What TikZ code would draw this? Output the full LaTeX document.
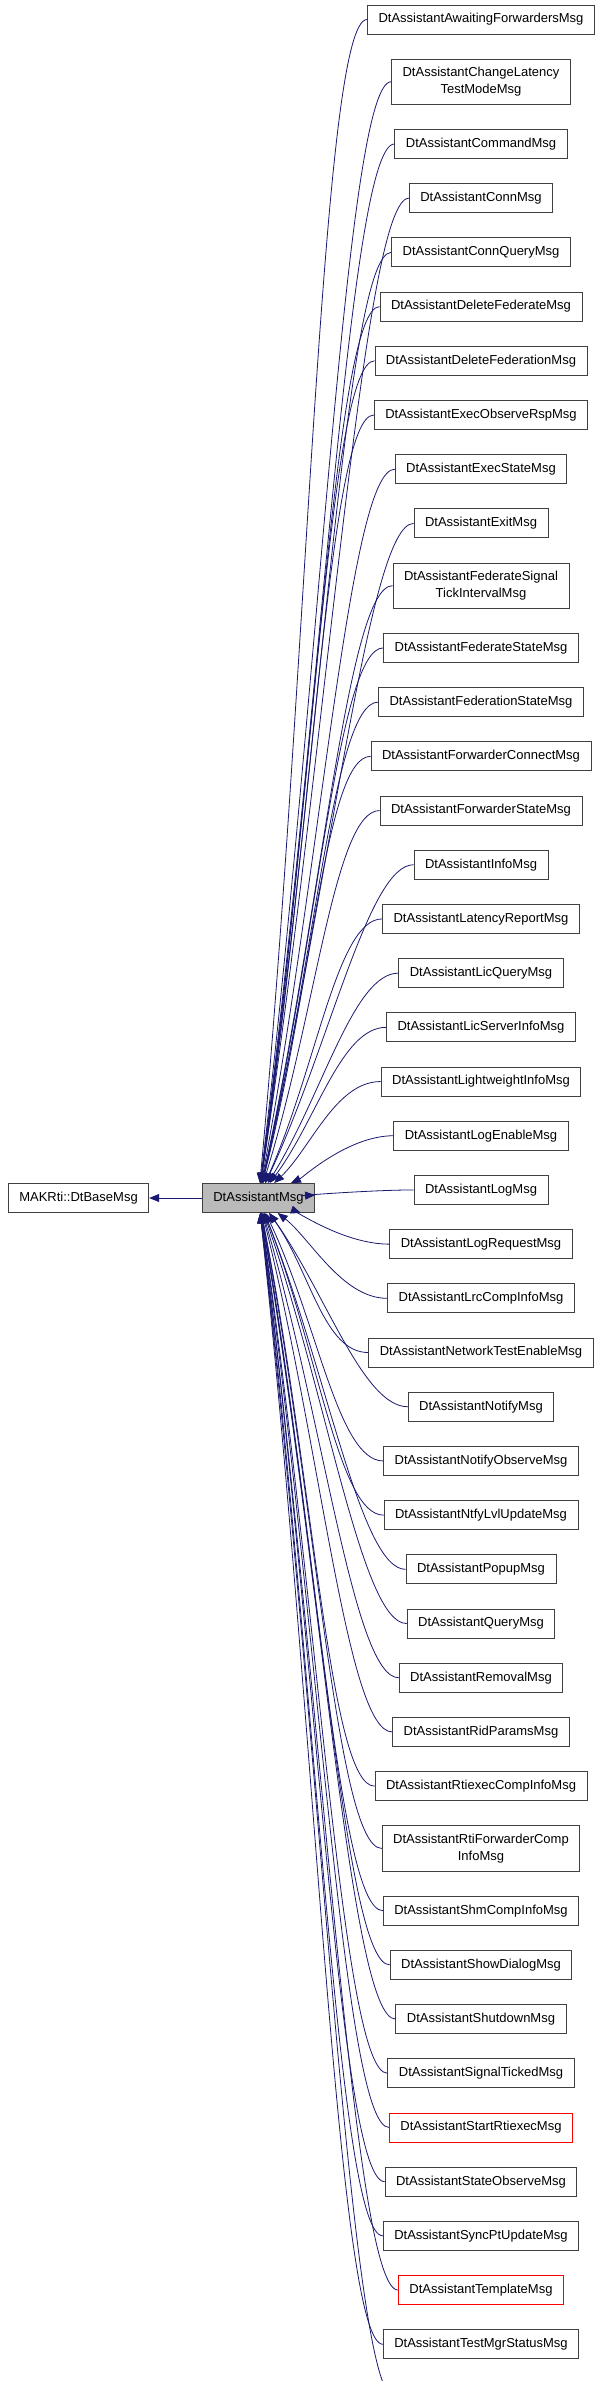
\documentclass[tikz,border=0pt]{standalone}
\usepackage{fontspec}
\setmainfont{Liberation Sans}
\usetikzlibrary{positioning,arrows.meta}
\definecolor{edgeblue}{HTML}{191970}
\tikzset{
  cls/.style={draw=black!75, line width=0.9pt, fill=white, align=center,
    font=\fontsize{13}{17}\selectfont, inner xsep=11pt, inner ysep=8pt, minimum height=29pt},
  hl/.style={cls, fill=black!27},
  red/.style={cls, draw=red},
  inh/.style={edgeblue, line width=0.8pt, {Triangle[length=10pt,width=8pt]}-}
}
\begin{document}
\begin{tikzpicture}
  \useasboundingbox (0pt,0pt) rectangle (603pt,-2381pt);
  % base classes
  \node[hl] (main) at (258.5pt,-1198pt) {DtAssistantMsg};
  \node[cls] (base) at (78.5pt,-1198pt) {MAKRti::DtBaseMsg};
  \draw[inh] (base) -- (main);
  % derived classes
  \node[cls] (c1) at (481pt,-19.5pt) {DtAssistantAwaitingForwardersMsg};
  \foreach \txt/\sty [count=\i from 2, evaluate=\i as \j using int(\i-1)] in {
    {DtAssistantChangeLatency\\TestModeMsg}/cls, DtAssistantCommandMsg/cls,
    DtAssistantConnMsg/cls, DtAssistantConnQueryMsg/cls,
    DtAssistantDeleteFederateMsg/cls, DtAssistantDeleteFederationMsg/cls,
    DtAssistantExecObserveRspMsg/cls, DtAssistantExecStateMsg/cls,
    DtAssistantExitMsg/cls, {DtAssistantFederateSignal\\TickIntervalMsg}/cls,
    DtAssistantFederateStateMsg/cls, DtAssistantFederationStateMsg/cls,
    DtAssistantForwarderConnectMsg/cls, DtAssistantForwarderStateMsg/cls,
    DtAssistantInfoMsg/cls, DtAssistantLatencyReportMsg/cls,
    DtAssistantLicQueryMsg/cls, DtAssistantLicServerInfoMsg/cls,
    DtAssistantLightweightInfoMsg/cls, DtAssistantLogEnableMsg/cls,
    DtAssistantLogMsg/cls, DtAssistantLogRequestMsg/cls,
    DtAssistantLrcCompInfoMsg/cls, DtAssistantNetworkTestEnableMsg/cls,
    DtAssistantNotifyMsg/cls, DtAssistantNotifyObserveMsg/cls,
    DtAssistantNtfyLvlUpdateMsg/cls, DtAssistantPopupMsg/cls,
    DtAssistantQueryMsg/cls, DtAssistantRemovalMsg/cls,
    DtAssistantRidParamsMsg/cls, DtAssistantRtiexecCompInfoMsg/cls,
    {DtAssistantRtiForwarderComp\\InfoMsg}/cls, DtAssistantShmCompInfoMsg/cls,
    DtAssistantShowDialogMsg/cls, DtAssistantShutdownMsg/cls,
    DtAssistantSignalTickedMsg/cls, DtAssistantStartRtiexecMsg/red,
    DtAssistantStateObserveMsg/cls, DtAssistantSyncPtUpdateMsg/cls,
    DtAssistantTemplateMsg/red, DtAssistantTestMgrStatusMsg/cls,
    DtAssistantTimeStateMsg/cls}
    \node[\sty, below=24.3pt of c\j] (c\i) {\txt};
  % inheritance edges
  \foreach \i in {1,...,44}{
    \path (c\i.west); \pgfgetlastxy{\cx}{\cy}
    \pgfmathsetmacro\dx{\cx-258.5}
    \pgfmathsetmacro\dy{\cy+1198}
    \pgfmathsetmacro\ang{atan2(\dy,\dx)}
    \pgfmathsetmacro\dd{0.45*abs(\dy)+20}
    \draw[inh] (main) .. controls +(\ang:\dd pt) and +(-45pt,0pt) .. (c\i.west);
  }
\end{tikzpicture}
\end{document}
